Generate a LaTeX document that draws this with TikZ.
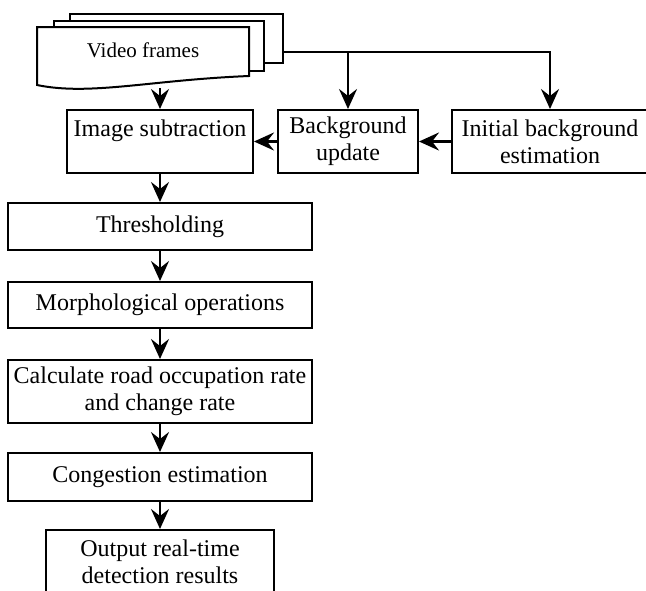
\documentclass[tikz,border=0pt]{standalone}
\usepackage{fontspec}
\setmainfont{Liberation Serif}
\usetikzlibrary{arrows.meta}
\tikzset{stage/.style = {draw, line width = 1pt, align = center, inner sep = 0, font = \fontsize{12}{13.5}\selectfont}}
\tikzset{flow/.style = {-{Stealth[length = 10pt, width = 9pt, inset = 3.5pt]}, line width = 1.3pt}}
\tikzset{sheet/.style = {draw, fill = white, line width = 1pt}}

\begin{document}
\begin{tikzpicture}[x = 0.5pt, y = -0.5pt]
    \useasboundingbox (0, 0) rectangle (646, 590);

    % stack of frames
    \draw [sheet] (70, 14) rectangle (283, 63);
    \draw [sheet] (54, 21) rectangle (264, 71);
    \draw [sheet] (37, 27) -- (249, 27) -- (249, 76) .. controls (150, 80) and (90, 96) .. (37, 85) -- cycle;
    \node (frames) at (143, 50) [font = \fontsize{10.5}{12}\selectfont] {Video frames};
    \coordinate (frames-bot) at (160, 88);
    \coordinate (frames-side) at (283, 52);

    \node (sub) at (160, 141.5) [stage, minimum width = 93pt, minimum height = 31.5pt] {Image subtraction\\~};
    \node (upd) at (348, 141.5) [stage, minimum width = 70pt, minimum height = 31.5pt] {Background\\update};
    \node (init) at (550, 141.5) [stage, minimum width = 98pt, minimum height = 31.5pt] {Initial background\\estimation};
    \node (thr) at (160, 226.5) [stage, minimum width = 152pt, minimum height = 23.5pt] {Thresholding};
    \node (morph) at (160, 305) [stage, minimum width = 152pt, minimum height = 23pt] {Morphological operations};
    \node (rate) at (160, 391.5) [stage, minimum width = 152pt, minimum height = 31.5pt] {Calculate road occupation rate\\and change rate};
    \node (cong) at (160, 477) [stage, minimum width = 152pt, minimum height = 24pt] {Congestion estimation};
    \node (out) at (160, 561.5) [stage, minimum width = 114pt, minimum height = 31.5pt] {Output real-time\\detection results};

    \draw [flow] (frames-bot) -- (sub);
    \draw [flow] (frames-side) -| (init.north);
    \draw [flow] (upd.north |- frames-side) -- (upd.north);
    \draw [flow] (init) -- (upd);
    \draw [flow] (upd) -- (sub);
    \draw [flow] (sub) -- (thr);
    \draw [flow] (thr) -- (morph);
    \draw [flow] (morph) -- (rate);
    \draw [flow] (rate) -- (cong);
    \draw [flow] (cong) -- (out);
\end{tikzpicture}
\end{document}
